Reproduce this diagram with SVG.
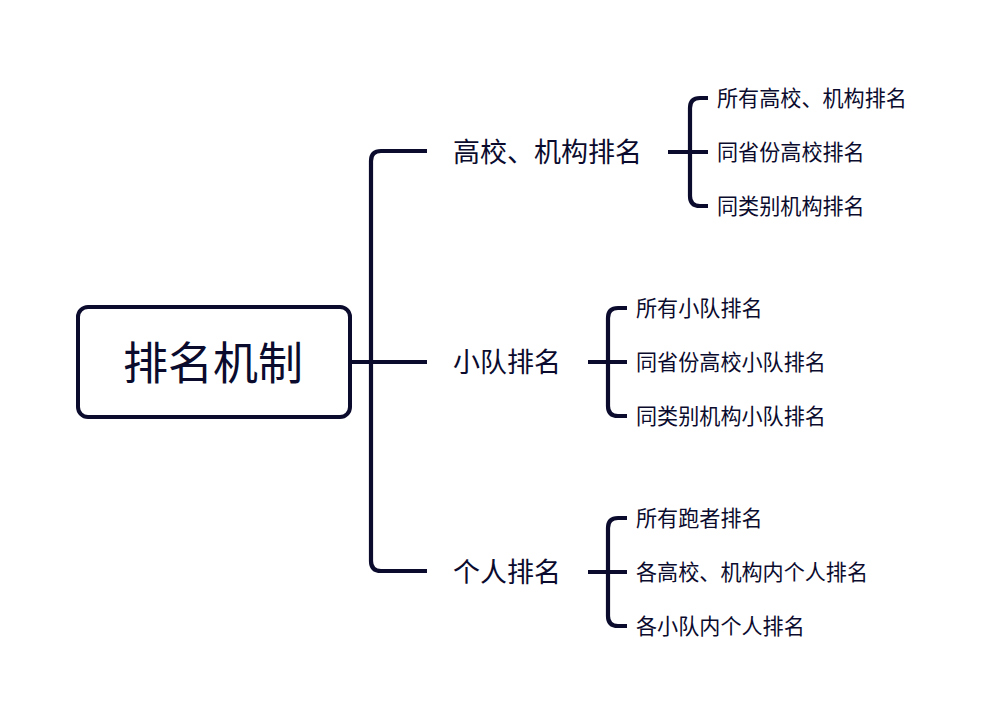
<svg xmlns="http://www.w3.org/2000/svg" width="990" height="723" viewBox="0 0 990 723">
<style>
.ln{fill:none;stroke:#0b0b2e;stroke-width:4.2;stroke-linecap:butt;stroke-linejoin:round}
text{font-family:"Noto Sans CJK SC","Microsoft YaHei",sans-serif;fill:#0b0b2e;dominant-baseline:central}
.root{font-size:45px}
.br{font-size:27px}
.lf{font-size:21.1px}
</style>
<rect width="990" height="723" fill="#ffffff"/>
<g id="connectors">
<path class="ln" d="M352,362 H427"/>
<path class="ln" d="M427,151 H381 Q371,151 371,161 V561 Q371,571 381,571 H427"/>
<path class="ln" d="M668,152 H708"/>
<path class="ln" d="M708,98 H700 Q690,98 690,108 V196 Q690,206 700,206 H708"/>
<path class="ln" d="M588,362 H627"/>
<path class="ln" d="M627,308 H618 Q608,308 608,318 V406 Q608,416 618,416 H627"/>
<path class="ln" d="M588,572 H627"/>
<path class="ln" d="M627,518 H618 Q608,518 608,528 V616 Q608,626 618,626 H627"/>
</g>
<g id="root">
<rect x="78" y="307" width="272" height="110" rx="10" fill="#ffffff" stroke="#0b0b2e" stroke-width="4"/>
<text class="root" x="213" y="360.5" text-anchor="middle">排名机制</text>
</g>
<g id="b1"><text class="br" x="453" y="150.5">高校、机构排名</text></g>
<g id="b2"><text class="br" x="453" y="360.5">小队排名</text></g>
<g id="b3"><text class="br" x="453" y="570.5">个人排名</text></g>
<g id="l11"><text class="lf" x="717" y="96.5">所有高校、机构排名</text></g>
<g id="l12"><text class="lf" x="717" y="150.5">同省份高校排名</text></g>
<g id="l13"><text class="lf" x="717" y="204.5">同类别机构排名</text></g>
<g id="l21"><text class="lf" x="636" y="306.5">所有小队排名</text></g>
<g id="l22"><text class="lf" x="636" y="360.5">同省份高校小队排名</text></g>
<g id="l23"><text class="lf" x="636" y="414.5">同类别机构小队排名</text></g>
<g id="l31"><text class="lf" x="636" y="516.5">所有跑者排名</text></g>
<g id="l32"><text class="lf" x="636" y="570.5">各高校、机构内个人排名</text></g>
<g id="l33"><text class="lf" x="636" y="624.5">各小队内个人排名</text></g>
</svg>
